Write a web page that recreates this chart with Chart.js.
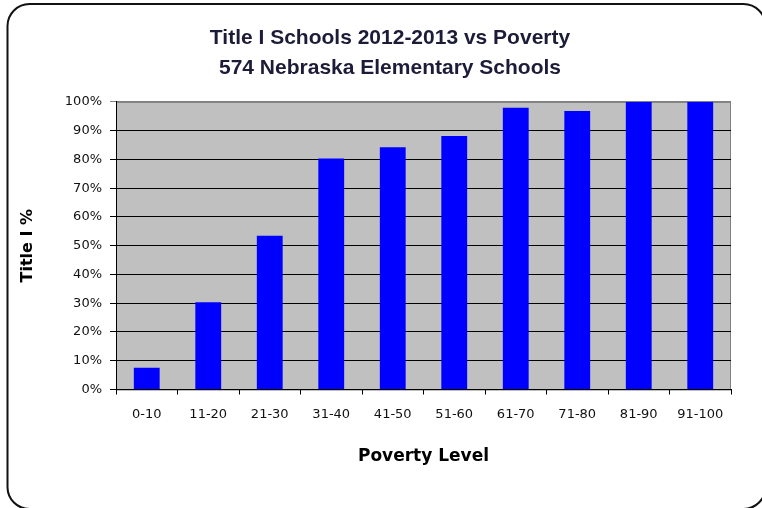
<!DOCTYPE html>
<html>
<head>
<meta charset="utf-8">
<script src="https://cdn.jsdelivr.net/npm/chart.js@4/dist/chart.umd.min.js"></script>
<style>
  html, body { margin: 0; padding: 0; background: #fff; }
  #wrap { width: 762px; height: 508px; position: relative; }
</style>
</head>
<body>
<div id="wrap"><canvas id="c" width="762" height="508"></canvas></div>
<script>
const categories = ["0-10", "11-20", "21-30", "31-40", "41-50", "51-60", "61-70", "71-80", "81-90", "91-100"];
const titleIPercent = [7.6, 30.3, 53.5, 80.3, 84.2, 88.1, 98.0, 96.8, 100, 100];
const titleLines = ["Title I Schools 2012-2013 vs Poverty", "574 Nebraska Elementary Schools"];
const xAxisTitle = "Poverty Level";
const yAxisTitle = "Title I %";

const framePlugin = {
  id: 'frame',
  beforeDraw(chart) {
    const { ctx, chartArea: a } = chart;
    ctx.save();
    ctx.fillStyle = '#ffffff';
    ctx.fillRect(0, 0, chart.width, chart.height);
    ctx.fillStyle = '#C0C0C0';
    ctx.fillRect(a.left, a.top, a.right - a.left, a.bottom - a.top);
    ctx.strokeStyle = '#808080';
    ctx.lineWidth = 1;
    ctx.strokeRect(a.left + 0.5, a.top + 0.5, a.right - a.left - 1, a.bottom - a.top);
    ctx.restore();
  },
  afterDraw(chart) {
    const { ctx } = chart;
    ctx.save();
    ctx.strokeStyle = '#111';
    ctx.lineWidth = 2;
    ctx.beginPath();
    ctx.roundRect(7.5, 4, 758, 505, 22);
    ctx.stroke();
    ctx.restore();
  }
};

new Chart(document.getElementById('c'), {
  type: 'bar',
  data: {
    labels: categories,
    datasets: [{
      data: titleIPercent,
      backgroundColor: '#0000FF',
      borderWidth: 0,
      barPercentage: 0.42,
      categoryPercentage: 1.0
    }]
  },
  plugins: [framePlugin],
  options: {
    responsive: false,
    animation: false,
    devicePixelRatio: 1,
    layout: { padding: { left: 18, right: 0, top: 0, bottom: 0 } },
    plugins: {
      legend: { display: false },
      tooltip: { enabled: false },
      title: {
        display: true,
        text: titleLines,
        color: '#1c1c38',
        font: { family: 'Liberation Sans, Arial, sans-serif', size: 21, weight: 'bold', lineHeight: 1.45 },
        padding: { top: 23, bottom: 18 }
      }
    },
    scales: {
      x: {
        afterFit(s) { s.height = 118.5; },
        grid: {
          offset: true,
          drawOnChartArea: false,
          drawTicks: true,
          tickLength: 5,
          color: '#000',
          lineWidth: 1
        },
        border: { display: true, color: '#000', width: 1 },
        ticks: {
          color: '#111',
          font: { family: 'DejaVu Sans', size: 13 },
          padding: 12,
          maxRotation: 0,
          autoSkip: false
        },
        title: {
          display: true,
          text: xAxisTitle,
          color: '#000',
          font: { family: 'DejaVu Sans', size: 17, weight: 'bold' },
          padding: { top: 4, bottom: 41 }
        }
      },
      y: {
        min: 0,
        max: 100,
        afterFit(s) { s.width = 98; },
        grid: {
          color: (c) => (c.tick && c.tick.value === 100) ? '#808080' : '#000',
          lineWidth: 1,
          drawTicks: true,
          tickLength: 6
        },
        border: { display: true, color: '#000', width: 1 },
        ticks: {
          stepSize: 10,
          color: '#111',
          font: { family: 'DejaVu Sans', size: 13 },
          padding: 8,
          callback: (v) => v + '%'
        },
        title: {
          display: true,
          text: yAxisTitle,
          color: '#000',
          font: { family: 'DejaVu Sans', size: 16, weight: 'bold' },
          padding: { top: 0, bottom: 0 }
        }
      },
      yR: {
        type: 'linear',
        position: 'right',
        display: true,
        afterFit(s) { s.width = 31; },
        grid: { display: false, drawTicks: false },
        border: { display: false },
        ticks: { display: false }
      }
    }
  }
});
</script>
</body>
</html>
